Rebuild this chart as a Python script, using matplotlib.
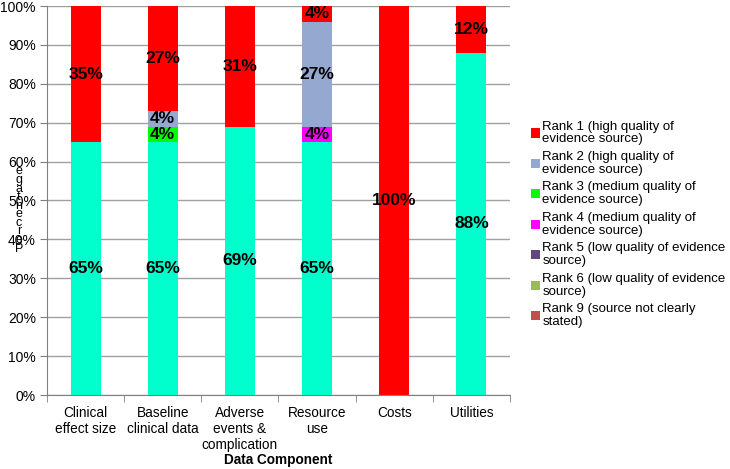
import matplotlib.pyplot as plt
import numpy as np

plt.rcParams['font.family'] = ['Liberation Sans', 'DejaVu Sans']

categories = ["Clinical\neffect size", "Baseline\nclinical data", "Adverse\nevents &\ncomplication",
              "Resource\nuse", "Costs", "Utilities"]

# bottom segment (not shown in legend)
base = [65, 65, 69, 65, 0, 88]
rank9 = [0, 0, 0, 0, 0, 0]
rank6 = [0, 0, 0, 0, 0, 0]
rank5 = [0, 0, 0, 0, 0, 0]
rank4 = [0, 0, 0, 4, 0, 0]
rank3 = [0, 4, 0, 0, 0, 0]
rank2 = [0, 4, 0, 27, 0, 0]
rank1 = [35, 27, 31, 4, 100, 12]

series = [
    (base, '#00FFCC', '_nolegend_'),
    (rank9, '#C0504D', 'Rank 9 (source not clearly\nstated)'),
    (rank6, '#9BBB59', 'Rank 6 (low quality of evidence\nsource)'),
    (rank5, '#604A7B', 'Rank 5 (low quality of evidence\nsource)'),
    (rank4, '#FF00FF', 'Rank 4 (medium quality of\nevidence source)'),
    (rank3, '#00FF00', 'Rank 3 (medium quality of\nevidence source)'),
    (rank2, '#95A9D0', 'Rank 2 (high quality of\nevidence source)'),
    (rank1, '#FF0000', 'Rank 1 (high quality of\nevidence source)'),
]

fig = plt.figure(figsize=(7.3, 4.69), dpi=100)
ax = fig.add_axes([47 / 730, 1 - 395 / 469, 463 / 730, 389 / 469])

x = np.arange(len(categories))
bottom = np.zeros(len(categories))
handles = []
for vals, color, label in series:
    vals = np.array(vals, dtype=float)
    bars = ax.bar(x, vals, 0.39, bottom=bottom, color=color, label=label, zorder=2)
    handles.append(bars)
    for xi, v, b in zip(x, vals, bottom):
        if v > 0:
            ax.text(xi, b + v / 2, f"{v:.0f}%", ha='center', va='center',
                    fontsize=12.5, fontweight='bold', color='black', zorder=3)
    bottom += vals

ax.set_xlim(-0.5, len(categories) - 0.5)
ax.set_ylim(0, 100)
ax.set_yticks(np.arange(0, 101, 10))
ax.set_yticklabels([f"{v}%" for v in range(0, 101, 10)], fontsize=10)
ax.yaxis.grid(True, color='#A0A0A0', linewidth=1, zorder=0)
ax.set_xticks(x)
ax.set_xticklabels(categories, fontsize=9.8, linespacing=1.17)
ax.set_xticks(np.arange(-0.5, len(categories)), minor=True)
ax.tick_params(axis='x', which='major', length=0, pad=8)
ax.tick_params(axis='x', which='minor', length=5, color='#808080')
ax.tick_params(axis='y', length=5, color='#808080', pad=3)
for s in ['top', 'right']:
    ax.spines[s].set_visible(False)
for s in ['left', 'bottom']:
    ax.spines[s].set_color('#808080')

ax.set_xlabel("Data Component", fontsize=9.8, fontweight='bold', labelpad=1)

# garbled y label as in the reference
fig.text(19 / 730, 1 - 210 / 469, "\n".join(reversed("Percentage")), ha='center', va='center',
         fontsize=9, linespacing=0.62)

handles_leg = [h for h, s in zip(handles, series) if s[2] != '_nolegend_'][::-1]
labels_leg = [s[2] for s in series if s[2] != '_nolegend_'][::-1]
leg = fig.legend(handles_leg, labels_leg, loc='upper left', bbox_to_anchor=(524 / 730, 1 - 114 / 469),
                 frameon=False, fontsize=9.5, handlelength=0.7, handleheight=0.7, handletextpad=0.2,
                 labelspacing=0.42, borderpad=0)
for t in leg.get_texts():
    t.set_linespacing(1.1)

fig.savefig("out.png", dpi=100)
